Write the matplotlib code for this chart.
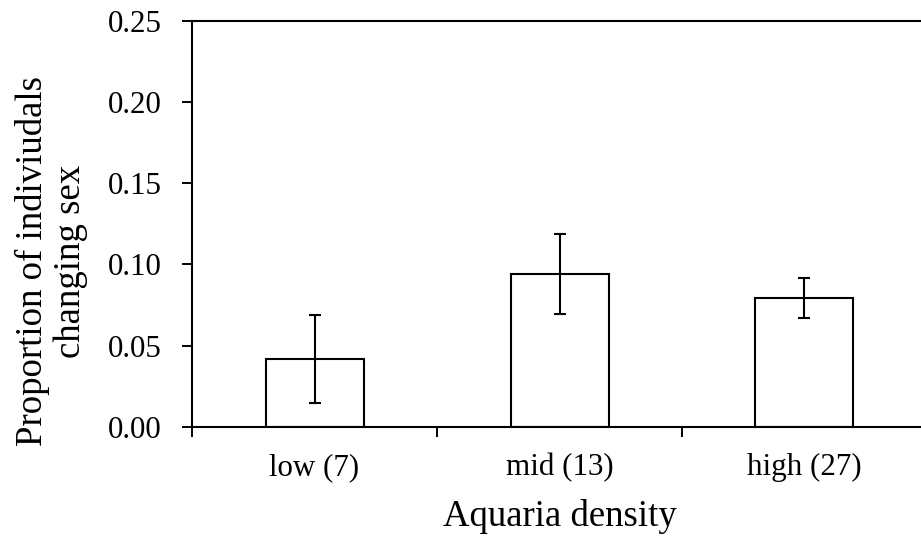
import numpy as np
import matplotlib
matplotlib.use("Agg")
import matplotlib.pyplot as plt
from matplotlib.ticker import FormatStrFormatter

# values
categories = ["low (7)", "mid (13)", "high (27)"]
proportion = [0.0417, 0.0942, 0.0794]
err = [0.0272, 0.0245, 0.0125]
y_ticks = [0.00, 0.05, 0.10, 0.15, 0.20, 0.25]

plt.rcParams["font.family"] = ["Liberation Serif", "DejaVu Serif"]

fig = plt.figure(figsize=(9.21, 5.38), dpi=100)
ax = fig.add_axes([0.2085, 0.2063, 0.798, 0.7552])

x = np.arange(len(categories))
ax.bar(x, proportion, width=0.4, color="white", edgecolor="black", linewidth=1.5, zorder=2)
ax.errorbar(x, proportion, yerr=err, fmt="none", ecolor="black", elinewidth=1.5,
            capsize=4.3, capthick=1.5, zorder=3)

ax.set_xlim(-0.5, len(categories) - 0.5)
ax.set_ylim(0, 0.25)
ax.set_yticks(y_ticks)
ax.yaxis.set_major_formatter(FormatStrFormatter("%.2f"))

# category boundaries get ticks, labels sit in between
ax.set_xticks(np.arange(len(categories) + 1) - 0.5)
ax.set_xticklabels([])
ax.set_xticks(x, minor=True)
ax.set_xticklabels(categories, minor=True)
ax.tick_params(axis="x", which="minor", length=0, pad=19, labelsize=22.3)
ax.tick_params(axis="x", which="major", length=7, width=1.4, direction="out")
ax.tick_params(axis="y", length=7, width=1.4, direction="out", pad=14.8, labelsize=22.3)

for side in ["left", "bottom", "top"]:
    ax.spines[side].set_linewidth(1.5)
ax.spines["right"].set_visible(False)

fig.text(0.0559, 1 - 261 / 538, "Proportion of indiviudals\nchanging sex", rotation=90,
         ha="center", va="center", fontsize=26.5, linespacing=1.15)
fig.text(560 / 921, 1 - 526 / 538, "Aquaria density", ha="center", va="baseline",
         fontsize=26.5)

fig.savefig("out.png", dpi=100)
